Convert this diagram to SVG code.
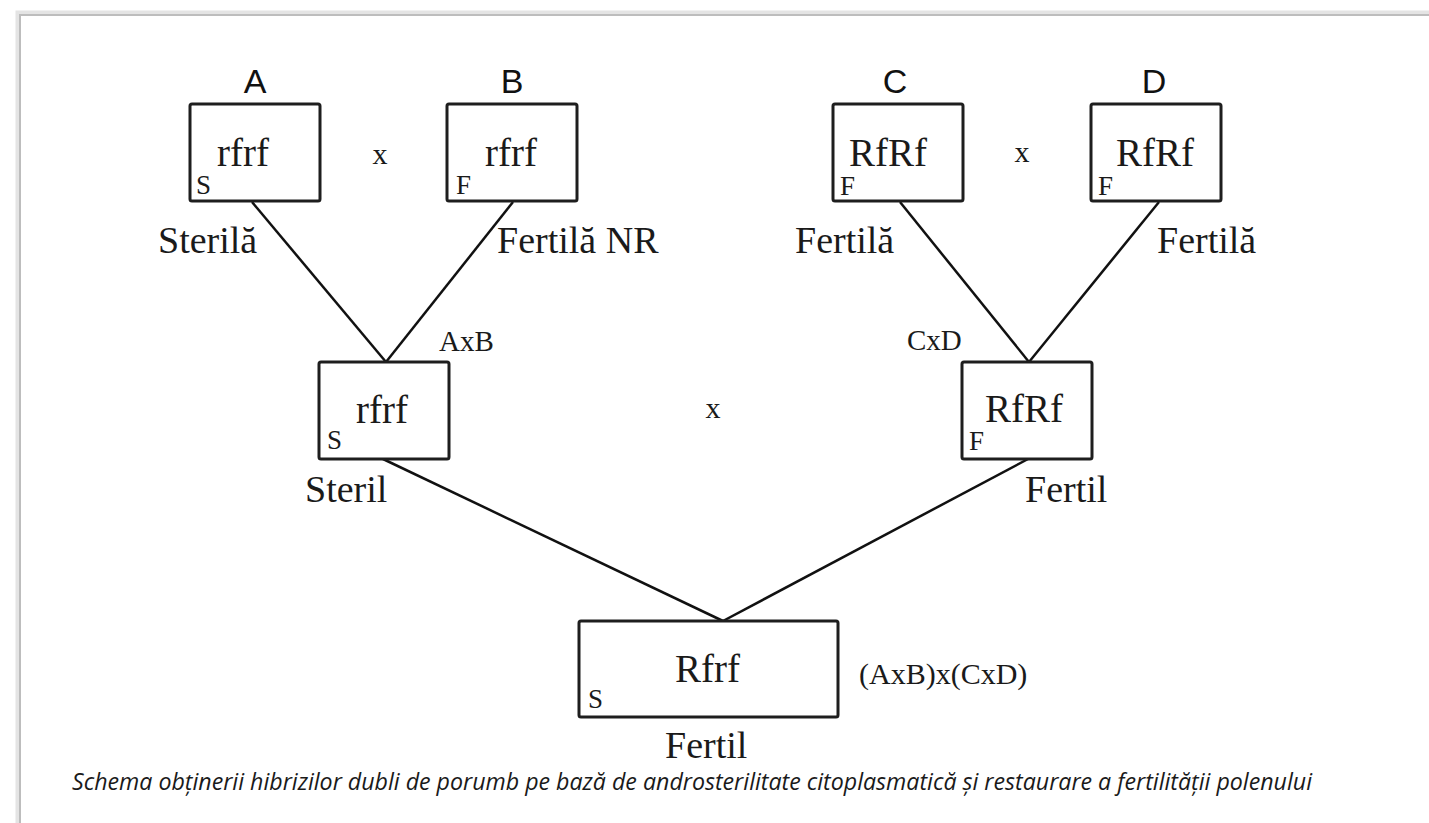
<svg xmlns="http://www.w3.org/2000/svg" width="1429" height="823" viewBox="0 0 1429 823">
<style>
.box{fill:#fff;stroke:#1e1e1e;stroke-width:3}
.ln{stroke:#111;stroke-width:2.5;fill:none}
.ser{font-family:"Liberation Serif","Times New Roman",serif;fill:#1a1a1a}
.big{font-size:38px}
.gen{font-size:39px}
.sm{font-size:27px}
.mid{font-size:29px}
.hd{font-family:"Liberation Sans",Arial,sans-serif;font-size:34px;fill:#111;text-anchor:middle}
.cap{font-family:"Open Sans","Noto Sans",sans-serif;font-style:italic;font-size:24px;fill:#1a1a1a}
</style>
<rect width="1429" height="823" fill="#fff"/>
<g id="frame">
<rect x="18" y="13" width="1440" height="840" fill="none" stroke="#e4e4e4" stroke-width="5"/>
<rect x="20" y="15" width="1440" height="840" fill="#fff" stroke="#bdbdbd" stroke-width="2"/>
</g>
<g id="connectors">
<line class="ln" x1="252" y1="202" x2="386" y2="362"/>
<line class="ln" x1="513" y1="202" x2="386" y2="362"/>
<line class="ln" x1="900" y1="202" x2="1029" y2="362"/>
<line class="ln" x1="1159" y1="202" x2="1029" y2="362"/>
<line class="ln" x1="383" y1="459" x2="723" y2="621"/>
<line class="ln" x1="1028" y1="459" x2="723" y2="621"/>
</g>
<g id="nodeA">
<text class="hd" x="255" y="93">A</text>
<rect class="box" x="190" y="104" width="130" height="97" rx="2"/>
<text class="ser gen" x="217" y="166">rfrf</text>
<text class="ser sm" x="196" y="194">S</text>
<text class="ser big" x="158" y="253">Sterilă</text>
</g>
<g id="nodeB">
<text class="hd" x="512" y="93">B</text>
<rect class="box" x="447" y="104" width="130" height="97" rx="2"/>
<text class="ser gen" x="485" y="166">rfrf</text>
<text class="ser sm" x="456" y="194">F</text>
<text class="ser big" x="497" y="253">Fertilă NR</text>
</g>
<g id="nodeC">
<text class="hd" x="895" y="93">C</text>
<rect class="box" x="833" y="104" width="130" height="97" rx="2"/>
<text class="ser gen" x="849" y="166">RfRf</text>
<text class="ser sm" x="840" y="195">F</text>
<text class="ser big" x="795" y="253">Fertilă</text>
</g>
<g id="nodeD">
<text class="hd" x="1154" y="93">D</text>
<rect class="box" x="1091" y="104" width="130" height="97" rx="2"/>
<text class="ser gen" x="1116" y="166">RfRf</text>
<text class="ser sm" x="1098" y="195">F</text>
<text class="ser big" x="1157" y="253">Fertilă</text>
</g>
<g id="crosses">
<text class="ser" font-size="30" text-anchor="middle" x="380" y="164">x</text>
<text class="ser" font-size="30" text-anchor="middle" x="1022" y="162">x</text>
<text class="ser" font-size="30" text-anchor="middle" x="713" y="418">x</text>
</g>
<g id="nodeAxB">
<text class="ser mid" x="439" y="351">AxB</text>
<rect class="box" x="319" y="362" width="130" height="97" rx="2"/>
<text class="ser gen" x="356" y="423">rfrf</text>
<text class="ser sm" x="327" y="449">S</text>
<text class="ser big" x="305" y="502">Steril</text>
</g>
<g id="nodeCxD">
<text class="ser mid" x="907" y="350">CxD</text>
<rect class="box" x="962" y="362" width="130" height="97" rx="2"/>
<text class="ser gen" x="985" y="422">RfRf</text>
<text class="ser sm" x="969" y="450">F</text>
<text class="ser big" x="1025" y="502">Fertil</text>
</g>
<g id="nodeHybrid">
<rect class="box" x="579" y="621" width="259" height="96" rx="2"/>
<text class="ser gen" x="675" y="682">Rfrf</text>
<text class="ser sm" x="588" y="708">S</text>
<text class="ser" font-size="30" x="859" y="684">(AxB)x(CxD)</text>
<text class="ser big" x="665" y="758">Fertil</text>
</g>
<g id="caption">
<text class="cap" x="72" y="790" textLength="1240" lengthAdjust="spacingAndGlyphs">Schema obținerii hibrizilor dubli de porumb pe bază de androsterilitate citoplasmatică și restaurare a fertilității polenului</text>
</g>
</svg>
